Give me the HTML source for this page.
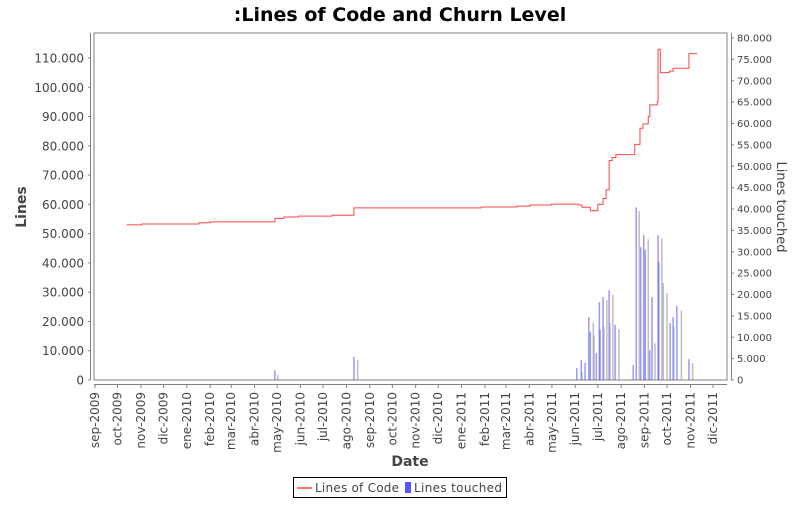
<!DOCTYPE html>
<html><head><meta charset="utf-8"><style>
body{margin:0;background:#fff;}
svg text{font-family:"DejaVu Sans","Liberation Sans",sans-serif;fill:#444;}
</style></head><body>
<svg id="chart" width="800" height="500" viewBox="0 0 800 500">
<rect width="800" height="500" fill="#fff"/>
<text x="400" y="21" text-anchor="middle" font-size="19" font-weight="bold" style="fill:#000">:Lines of Code and Churn Level</text>
<rect x="94" y="33" width="633" height="347" fill="#fff" stroke="#808080"/>
<g id="axes"></g>
<g id="bars"></g>
<g id="line"></g>
<text x="26" y="207" transform="rotate(-90 26 207)" text-anchor="middle" font-size="14" font-weight="bold">Lines</text>
<text x="777" y="207" transform="rotate(90 777 207)" text-anchor="middle" font-size="13">Lines touched</text>
<text x="410" y="466" text-anchor="middle" font-size="14" font-weight="bold">Date</text>
<g>
<rect x="293.5" y="477.5" width="213" height="20" fill="#fff" stroke="#000"/>
<line x1="297" y1="488" x2="312" y2="488" stroke="#f44" stroke-width="1.5"/>
<text x="315" y="492" font-size="12" textLength="84">Lines of Code</text>
<rect x="405" y="482" width="6" height="11" fill="#55f"/>
<text x="414" y="492" font-size="12" textLength="88">Lines touched</text>
</g>
</svg>
<script>
const months=["sep-2009","oct-2009","nov-2009","dic-2009","ene-2010","feb-2010","mar-2010","abr-2010","may-2010","jun-2010","jul-2010","ago-2010","sep-2010","oct-2010","nov-2010","dic-2010","ene-2011","feb-2011","mar-2011","abr-2011","may-2011","jun-2011","jul-2011","ago-2011","sep-2011","oct-2011","nov-2011","dic-2011"];
const monthDates=["2009-09-01","2009-10-01","2009-11-01","2009-12-01","2010-01-01","2010-02-01","2010-03-01","2010-04-01","2010-05-01","2010-06-01","2010-07-01","2010-08-01","2010-09-01","2010-10-01","2010-11-01","2010-12-01","2011-01-01","2011-02-01","2011-03-01","2011-04-01","2011-05-01","2011-06-01","2011-07-01","2011-08-01","2011-09-01","2011-10-01","2011-11-01","2011-12-01"];
const leftTicks=[0,10000,20000,30000,40000,50000,60000,70000,80000,90000,100000,110000];
const rightTicks=[0,5000,10000,15000,20000,25000,30000,35000,40000,45000,50000,55000,60000,65000,70000,75000,80000];
const locDates=["2009-10-13","2009-11-02","2010-01-17","2010-02-01","2010-04-28","2010-05-10","2010-05-29","2010-07-13","2010-08-11","2011-01-27","2011-03-16","2011-04-02","2011-04-30","2011-06-05","2011-06-10","2011-06-21","2011-07-01","2011-07-08","2011-07-12","2011-07-16","2011-07-20","2011-07-25","2011-08-19","2011-08-26","2011-08-30","2011-09-06","2011-09-08","2011-09-18","2011-09-19","2011-09-22","2011-10-04","2011-10-09","2011-10-30","2011-11-10"];
const locValues=[53000,53300,53700,54000,55200,55700,56000,56300,58800,59100,59400,59800,60100,59800,59000,57800,60000,62000,65000,75000,76000,77000,80500,86000,87500,90000,94000,95000,113000,105000,105500,106500,111500,111500];
const churnDates=["2010-04-28","2010-05-02","2010-08-11","2010-08-16","2011-06-03","2011-06-09","2011-06-10","2011-06-14","2011-06-19","2011-06-21","2011-06-25","2011-06-26","2011-06-29","2011-07-03","2011-07-04","2011-07-08","2011-07-09","2011-07-13","2011-07-16","2011-07-17","2011-07-21","2011-07-24","2011-07-29","2011-08-17","2011-08-21","2011-08-25","2011-08-27","2011-08-31","2011-09-02","2011-09-06","2011-09-08","2011-09-11","2011-09-15","2011-09-19","2011-09-20","2011-09-24","2011-09-26","2011-10-01","2011-10-05","2011-10-09","2011-10-10","2011-10-14","2011-10-20","2011-10-30","2011-11-04"];
const churnValues=[2300,1200,5400,4600,2800,4600,1900,4000,14700,11200,13500,10500,6300,18200,11700,19400,12400,18700,21000,13300,19900,12900,11900,3500,40400,39500,31100,33900,30400,32900,7000,19400,8600,33900,27600,33100,22700,20300,13300,14700,12400,17300,16300,4900,4000];
const churnKind=[0,1,0,1,0,0,1,0,0,0,1,1,0,0,0,0,1,1,0,1,1,0,1,0,0,1,0,0,0,1,0,0,1,0,0,1,1,1,0,0,1,0,1,0,1];

const NS="http://www.w3.org/2000/svg";
const t0=Date.parse("2009-09-01"),t1=Date.parse("2011-12-01");
const X=d=>95+(Date.parse(d)-t0)/(t1-t0)*618;
const YL=v=>380-v/110000*322;
const YR=v=>380-v/80000*342;
function mk(tag,attrs,parent){const e=document.createElementNS(NS,tag);for(const k in attrs)e.setAttribute(k,attrs[k]);parent.appendChild(e);return e;}
const fmt=v=>v.toString().replace(/\B(?=(\d{3})+(?!\d))/g,".");
const axes=document.getElementById('axes');
mk('line',{x1:90.5,y1:33,x2:90.5,y2:380,stroke:'#808080'},axes);
mk('line',{x1:731.5,y1:33,x2:731.5,y2:380,stroke:'#808080'},axes);
mk('line',{x1:94,y1:384.5,x2:727,y2:384.5,stroke:'#808080'},axes);
leftTicks.forEach(v=>{const y=YL(v);
 mk('line',{x1:88,y1:y,x2:90,y2:y,stroke:'#808080'},axes);
 const t=mk('text',{x:84,y:y+4.5,'text-anchor':'end','font-size':12},axes);t.textContent=fmt(v);
 
 });
rightTicks.forEach(v=>{const y=YR(v);
 mk('line',{x1:731,y1:y,x2:734,y2:y,stroke:'#808080'},axes);
 const t=mk('text',{x:737,y:y+3.5,'font-size':10},axes);t.textContent=fmt(v);
 
 });
months.forEach((m,i)=>{const x=X(monthDates[i]);
 mk('line',{x1:x,y1:384,x2:x,y2:388,stroke:'#808080'},axes);
 const t=mk('text',{x:0,y:0,'font-size':12,'text-anchor':'end',transform:`translate(${x+4},392) rotate(-90)`},axes);t.textContent=m;
 
 });
const bars=document.getElementById('bars');
churnDates.forEach((d,i)=>{const x=X(d),y=YR(churnValues[i]);
 const r=mk('rect',{x:x-0.75,y:y,width:1.5,height:380-y,fill:churnKind[i]?'#888':'#55f','fill-opacity':churnKind[i]?0.55:0.6},bars);
 
 });
let p='';
locDates.forEach((d,i)=>{const x=X(d),y=YL(locValues[i]);
 if(i===0)p+=`M${x},${y}`;else p+=`H${x}V${y}`;});
const path=mk('path',{d:p,fill:'none',stroke:'#f44','stroke-width':1},document.getElementById('line'));


</script>
</body></html>
